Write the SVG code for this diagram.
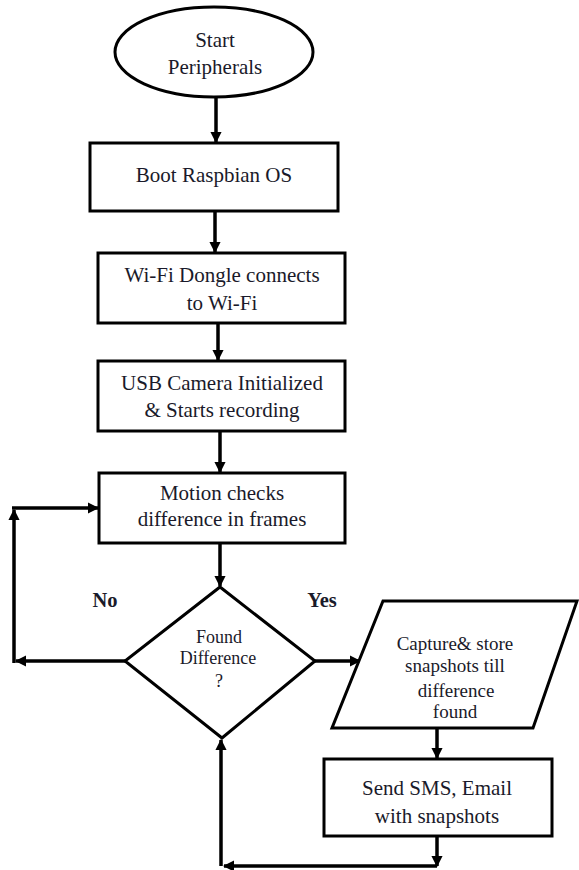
<svg xmlns="http://www.w3.org/2000/svg" width="579" height="870" viewBox="0 0 579 870">
<defs>
<marker id="ah" viewBox="0 0 10 10" refX="9" refY="5" markerWidth="3.3" markerHeight="3.3" orient="auto" markerUnits="strokeWidth">
<path d="M0,0 L10,5 L0,10 z" fill="#000"/>
</marker>
<style>
.shape{fill:#fff;stroke:#000;stroke-width:3}
.t{font-family:"Liberation Serif","Times New Roman",serif;font-size:21px;fill:#1a1a2a;text-anchor:middle}
.s{font-size:19px}
.d{font-size:18px}
.b{font-weight:bold;font-size:20.5px}
.c{fill:none;stroke:#000;stroke-width:3.5}
.a{marker-end:url(#ah)}
</style>
</defs>
<rect width="579" height="870" fill="#fff"/>
<g id="connectors">
<line class="c a" x1="216" y1="97" x2="216" y2="142"/>
<line class="c a" x1="215" y1="211" x2="215" y2="252"/>
<line class="c a" x1="218" y1="324" x2="218" y2="360"/>
<line class="c a" x1="220" y1="431" x2="220" y2="472"/>
<line class="c a" x1="220" y1="543" x2="220" y2="586"/>
<line class="c a" x1="125" y1="661" x2="16" y2="661"/>
<line class="c a" x1="14" y1="663" x2="14" y2="510"/>
<polyline class="c a" points="12,508 98,508"/>
<line class="c a" x1="315" y1="661" x2="360" y2="661"/>
<line class="c a" x1="437" y1="728" x2="437" y2="758"/>
<line class="c a" x1="437" y1="836" x2="437" y2="866"/>
<line class="c a" x1="437" y1="866" x2="224" y2="866"/>
<line class="c a" x1="221" y1="866" x2="221" y2="740"/>
</g>
<g id="start">
<ellipse class="shape" cx="214" cy="52" rx="99" ry="45"/>
<text class="t" x="215" y="47">Start</text>
<text class="t" x="215" y="74">Peripherals</text>
</g>
<g id="boot">
<rect class="shape" x="90" y="143" width="248" height="68"/>
<text class="t" x="214" y="182">Boot Raspbian OS</text>
</g>
<g id="wifi">
<rect class="shape" x="98" y="253" width="247" height="70"/>
<text class="t" x="222" y="282">Wi-Fi Dongle connects</text>
<text class="t" x="222" y="310">to Wi-Fi</text>
</g>
<g id="camera">
<rect class="shape" x="98" y="361" width="247" height="70"/>
<text class="t" x="222" y="390">USB Camera Initialized</text>
<text class="t" x="222" y="417">&amp; Starts recording</text>
</g>
<g id="motion">
<rect class="shape" x="99" y="473" width="246" height="70"/>
<text class="t" x="222" y="500">Motion checks</text>
<text class="t" x="222" y="526">difference in frames</text>
</g>
<g id="decision">
<polygon class="shape" points="220,587 315,661 222,738 125,661"/>
<text class="t d" x="219" y="643">Found</text>
<text class="t d" x="218" y="664">Difference</text>
<text class="t d" x="219" y="687">?</text>
</g>
<g id="labels">
<text class="t b" x="105" y="607">No</text>
<text class="t b" x="322" y="607">Yes</text>
</g>
<g id="capture">
<polygon class="shape" points="383,601 577,601 533,728 332,728"/>
<text class="t s" x="455" y="650">Capture&amp; store</text>
<text class="t s" x="455" y="672">snapshots till</text>
<text class="t s" x="456" y="697">difference</text>
<text class="t s" x="455" y="718">found</text>
</g>
<g id="notify">
<rect class="shape" x="324" y="759" width="228" height="77"/>
<text class="t" x="437" y="795">Send SMS, Email</text>
<text class="t" x="437" y="823">with snapshots</text>
</g>
</svg>
